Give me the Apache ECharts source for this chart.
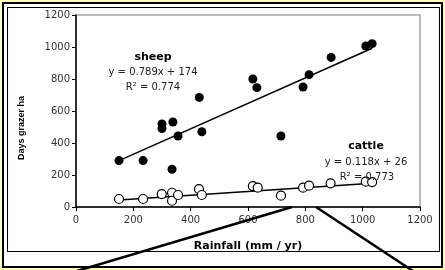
<!DOCTYPE html>
<html>
<head>
<meta charset="utf-8">
<script src="https://cdn.jsdelivr.net/npm/echarts@6/dist/echarts.min.js"></script>
<style>
html, body { margin: 0; padding: 0; background: #FFFFC0; }
#outer { position: absolute; left: 2px; top: 2px; width: 441px; height: 266px; box-sizing: border-box; border: 2px solid #000; background: #fff; }
#inner { position: absolute; left: 7px; top: 7px; width: 433px; height: 245px; box-sizing: border-box; border: 1px solid #000; }
#main { position: absolute; left: 0; top: 0; width: 445px; height: 270px; }
</style>
</head>
<body>
<div id="outer"></div>
<div id="inner"></div>
<div id="main"></div>
<script>
// rainfall (mm/yr) vs days grazed
var sheep = [[150,290],[234,290],[300,519],[300,490],[338,531],[335,236],[356,444],[430,685],[439,470],
             [617,800],[631,746],[715,444],[792,750],[813,827],[890,935],[1011,1006],[1033,1021]];
var cattle = [[150,50],[234,50],[299,81],[335,89],[335,39],[356,75],[429,112],[439,75],
              [617,131],[634,121],[715,71],[792,121],[813,133],[888,148],[1011,158],[1033,156]];
// trend line ends
var sheepFit = [[150,290],[1033,992]];
var cattleFit = [[150,44],[1033,148]];
var xTicks = [0, 1200, 200];
var yTicks = [0, 1200, 200];

var myChart = echarts.init(document.getElementById('main'));

function txt(x, y, s, bold) {
    return {
        type: 'text', x: x, y: y, z: 10,
        style: {
            text: s, fontFamily: 'DejaVu Sans', fontSize: bold ? 11 : 10,
            fontWeight: bold ? 'bold' : 'normal', fill: bold ? '#000' : '#222',
            align: 'center', verticalAlign: 'middle'
        }
    };
}
function plain(v) { return String(v); }

var option = {
    animation: false,
    grid: { left: 76, right: 25, top: 15, bottom: 63, show: true, borderColor: '#a6a6a6', borderWidth: 1.5 },
    xAxis: {
        type: 'value', min: xTicks[0], max: xTicks[1], interval: xTicks[2],
        name: 'Rainfall (mm / yr)', nameLocation: 'middle', nameGap: 34,
        nameTextStyle: { fontFamily: 'DejaVu Sans', fontSize: 11, fontWeight: 'bold', color: '#000' },
        axisLine: { lineStyle: { color: '#000', width: 1.5 } },
        axisTick: { show: true, length: 4, lineStyle: { color: '#000' } },
        axisLabel: { fontFamily: 'DejaVu Sans', fontSize: 10, color: '#333', margin: 8, formatter: plain },
        splitLine: { show: false }
    },
    yAxis: {
        type: 'value', min: yTicks[0], max: yTicks[1], interval: yTicks[2],
        axisLine: { show: true, lineStyle: { color: '#000', width: 1.5 } },
        axisTick: { show: true, length: 4, lineStyle: { color: '#000' } },
        axisLabel: { fontFamily: 'DejaVu Sans', fontSize: 10, color: '#333', margin: 6, formatter: plain },
        splitLine: { show: false }
    },
    series: [
        { name: 'sheep fit', type: 'line', data: sheepFit, showSymbol: false, z: 3,
          lineStyle: { color: '#000', width: 1.5 } },
        { name: 'cattle fit', type: 'line', data: cattleFit, showSymbol: false, z: 3,
          lineStyle: { color: '#000', width: 1.5 } },
        { name: 'sheep', type: 'scatter', data: sheep, symbolSize: 9, z: 4,
          itemStyle: { color: '#000', opacity: 1 } },
        { name: 'cattle', type: 'scatter', data: cattle, symbolSize: 9, z: 4,
          itemStyle: { color: '#fff', borderColor: '#000', borderWidth: 1.2, opacity: 1 } }
    ],
    graphic: [
        txt(153, 57, 'sheep', true),
        txt(153, 72, 'y = 0.789x + 174'),
        txt(153, 87, 'R² = 0.774'),
        txt(366, 146, 'cattle', true),
        txt(366, 162, 'y = 0.118x + 26'),
        txt(367, 177, 'R² = 0.773'),
        { type: 'text', x: 22, y: 128, rotation: Math.PI / 2, z: 10,
          style: { text: 'Days grazer ha', fontFamily: 'Liberation Sans', fontSize: 9, fontWeight: 'bold',
                   fill: '#000', align: 'center', verticalAlign: 'middle' } },
        // callout lines
        { type: 'line', z: 100, shape: { x1: 292, y1: 207, x2: 77, y2: 271 },
          style: { stroke: '#000', lineWidth: 2.5 } },
        { type: 'line', z: 100, shape: { x1: 316, y1: 207, x2: 413, y2: 271 },
          style: { stroke: '#000', lineWidth: 2.5 } }
    ]
};
myChart.setOption(option);
</script>
</body>
</html>
